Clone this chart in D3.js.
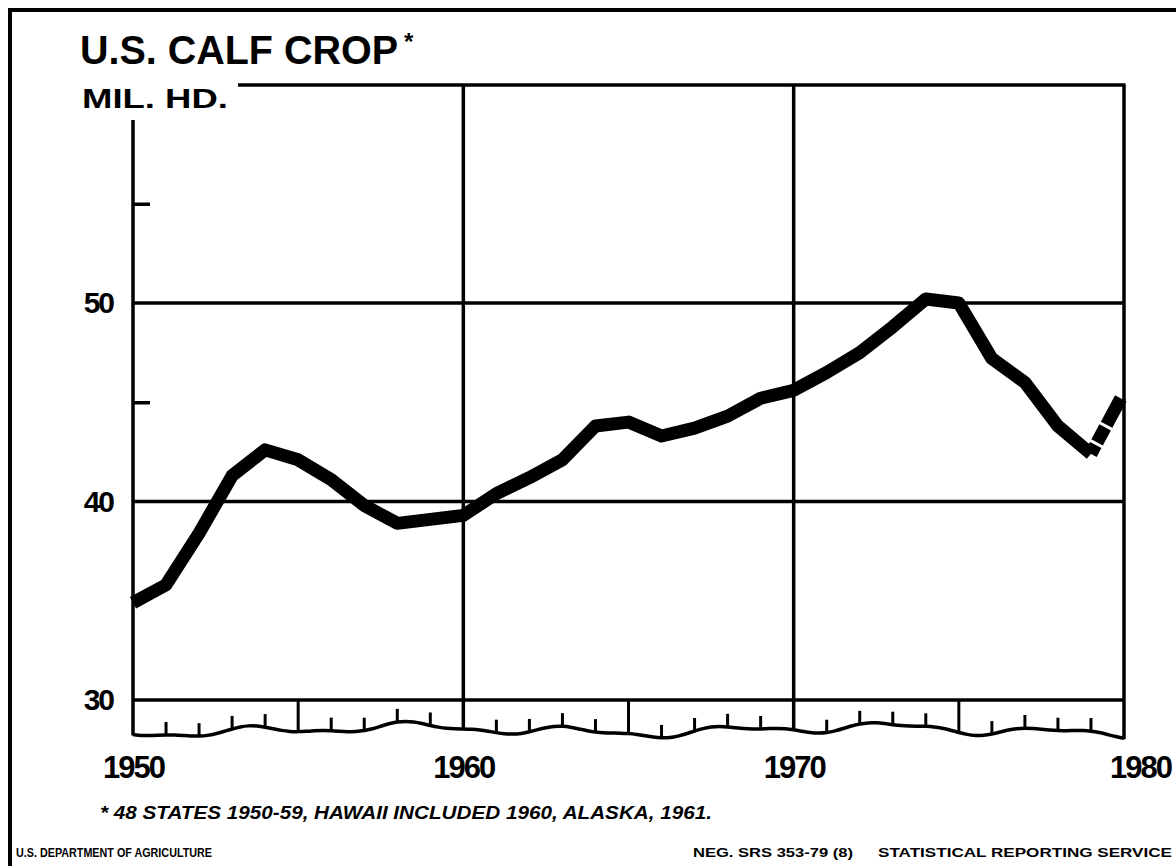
<!DOCTYPE html>
<html>
<head>
    <meta charset="utf-8">
    <title>U.S. Calf Crop</title>
    <script src="https://d3js.org/d3.v7.min.js"></script>
    <style>
        body { margin: 0; background: #fff; }
        text { font-family: "Liberation Sans", Arial, sans-serif; font-weight: bold; fill: #000; }
    </style>
</head>
<body>
    <div id="chart"></div>
    <script>
        // data: calf crop, million head
        var years = [1950, 1951, 1952, 1953, 1954, 1955, 1956, 1957, 1958, 1959,
                     1960, 1961, 1962, 1963, 1964, 1965, 1966, 1967, 1968, 1969,
                     1970, 1971, 1972, 1973, 1974, 1975, 1976, 1977, 1978, 1979, 1980];
        var calves = [34.9, 35.8, 38.4, 41.3, 42.6, 42.1, 41.1, 39.8, 38.9, 39.1,
                      39.3, 40.4, 41.2, 42.1, 43.8, 44.0, 43.3, 43.7, 44.3, 45.2,
                      45.6, 46.5, 47.5, 48.8, 50.2, 50.0, 47.2, 46.0, 43.8, 42.4, 45.5];
        var yLabels = [30, 40, 50];
        var yMinor = [45, 55];
        var xLabels = [1950, 1960, 1970, 1980];

        var W = 1176, H = 866;
        var svg = d3.select("#chart").append("svg")
            .attr("width", W).attr("height", H);

        var x = d3.scaleLinear().domain([1950, 1980]).range([133, 1124]);
        var y = d3.scaleLinear().domain([30, 50]).range([700, 303]);
        var plotTop = 85;

        // outer frame
        svg.append("path")
            .attr("d", "M10,866 L10,10 L1176,10")
            .attr("fill", "none").attr("stroke", "#000").attr("stroke-width", 4);

        // title
        svg.append("text").attr("x", 80).attr("y", 64)
            .style("font-size", "40px").attr("textLength", 318).attr("lengthAdjust", "spacingAndGlyphs")
            .text("U.S. CALF CROP");
        svg.append("text").attr("x", 404).attr("y", 50)
            .style("font-size", "24px").text("*");
        svg.append("text").attr("x", 82).attr("y", 108)
            .style("font-size", "27px").attr("textLength", 146).attr("lengthAdjust", "spacingAndGlyphs")
            .text("MIL. HD.");

        // wavy break strip under the plot
        var wave = function(t) {
            return 730 + 4 * Math.sin((t - 1950) * 1.3) + 3 * Math.sin((t - 1950) * 0.45 + 1) + 2 * Math.cos((t - 1950) * 2.7);
        };
        var waveData = d3.range(1950, 1980.01, 0.25);
        svg.append("path")
            .datum(waveData)
            .attr("d", d3.line().x(function(d) { return x(d); }).y(wave).curve(d3.curveBasis))
            .attr("fill", "none").attr("stroke", "#000").attr("stroke-width", 3.5);

        // year stubs on the strip
        svg.append("g").selectAll("line")
            .data(d3.range(1951, 1980).filter(function(d) { return d % 5 != 0; }))
            .join("line")
            .attr("x1", function(d) { return x(d); }).attr("x2", function(d) { return x(d); })
            .attr("y1", function(d) { return wave(d); })
            .attr("y2", function(d) { return wave(d) - 13; })
            .attr("stroke", "#000").attr("stroke-width", 3);

        // half-decade full ticks
        svg.append("g").selectAll("line")
            .data([1955, 1965, 1975])
            .join("line")
            .attr("x1", function(d) { return x(d); }).attr("x2", function(d) { return x(d); })
            .attr("y1", y(30)).attr("y2", function(d) { return wave(d); })
            .attr("stroke", "#000").attr("stroke-width", 3);

        // vertical grid lines and frame sides
        svg.append("g").selectAll("line")
            .data([1950, 1960, 1970, 1980])
            .join("line")
            .attr("x1", function(d) { return x(d); }).attr("x2", function(d) { return x(d); })
            .attr("y1", function(d) { return d == 1950 ? 120 : plotTop; })
            .attr("y2", function(d) { return wave(d) + 1; })
            .attr("stroke", "#000").attr("stroke-width", 3.5);

        // top border of the plot
        svg.append("line")
            .attr("x1", 238).attr("x2", x(1980) + 1.5)
            .attr("y1", plotTop).attr("y2", plotTop)
            .attr("stroke", "#000").attr("stroke-width", 3.5);

        // horizontal grid lines
        svg.append("g").selectAll("line")
            .data(yLabels)
            .join("line")
            .attr("x1", x(1950)).attr("x2", x(1980))
            .attr("y1", function(d) { return y(d); }).attr("y2", function(d) { return y(d); })
            .attr("stroke", "#000").attr("stroke-width", 3.5);

        // y axis labels and minor ticks
        var yAxis = d3.axisLeft(y).tickValues(yLabels).tickSize(0).tickPadding(20)
            .tickFormat(d3.format("d"));
        var gy = svg.append("g").attr("transform", "translate(" + x(1950) + ",0)").call(yAxis);
        gy.select(".domain").remove();
        gy.selectAll("text").style("font-size", "30px").style("font-family", "Liberation Sans, Arial, sans-serif")
            .attr("font-weight", "bold").attr("letter-spacing", "-2px");

        var gm = svg.append("g").attr("transform", "translate(" + x(1950) + ",0)")
            .call(d3.axisRight(y).tickValues(yMinor).tickSize(17).tickFormat(""));
        gm.select(".domain").remove();
        gm.selectAll("line").attr("stroke-width", 3.5);

        // x axis labels
        var xAxis = d3.axisBottom(x).tickValues(xLabels).tickSize(0).tickPadding(0)
            .tickFormat(d3.format("d"));
        var gx = svg.append("g").attr("transform", "translate(0,756)").call(xAxis);
        gx.select(".domain").remove();
        gx.selectAll("text").style("font-size", "31px").style("font-family", "Liberation Sans, Arial, sans-serif")
            .attr("font-weight", "bold").attr("letter-spacing", "-2px")
            .attr("dx", function(d) { return d == 1980 ? 16 : 0; });

        // the data line
        var pts = years.map(function(d, i) { return [d, calves[i]]; });
        var line = d3.line()
            .x(function(d) { return x(d[0]); })
            .y(function(d) { return y(d[1]); });
        svg.append("path")
            .datum(pts.slice(0, pts.length - 1))
            .attr("d", line)
            .attr("fill", "none").attr("stroke", "#000")
            .attr("stroke-width", 13).attr("stroke-linejoin", "round");
        // preliminary year, dashed
        svg.append("path")
            .datum(pts.slice(pts.length - 2))
            .attr("d", line)
            .attr("fill", "none").attr("stroke", "#000")
            .attr("stroke-width", 13).attr("stroke-dasharray", "10,3,17,3,30");

        // footnote and credits
        svg.append("text").attr("x", 100).attr("y", 819)
            .style("font-size", "18px").style("font-style", "italic")
            .attr("textLength", 612).attr("lengthAdjust", "spacingAndGlyphs")
            .text("* 48 STATES 1950-59, HAWAII INCLUDED 1960, ALASKA, 1961.");
        svg.append("text").attr("x", 16).attr("y", 857)
            .style("font-size", "12px").attr("textLength", 196).attr("lengthAdjust", "spacingAndGlyphs")
            .text("U.S. DEPARTMENT OF AGRICULTURE");
        svg.append("text").attr("x", 693).attr("y", 857)
            .style("font-size", "12px").attr("textLength", 160).attr("lengthAdjust", "spacingAndGlyphs")
            .text("NEG. SRS 353-79 (8)");
        svg.append("text").attr("x", 878).attr("y", 857)
            .style("font-size", "12px").attr("textLength", 294).attr("lengthAdjust", "spacingAndGlyphs")
            .text("STATISTICAL REPORTING SERVICE");
    </script>
</body>
</html>
